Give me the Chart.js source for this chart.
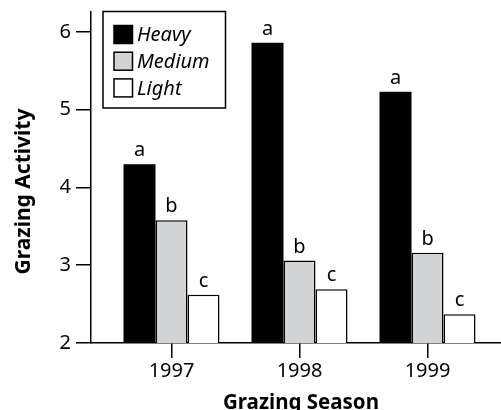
<!DOCTYPE html>
<html><head><meta charset="utf-8">
<script src="https://cdn.jsdelivr.net/npm/chart.js@4.4.1/dist/chart.umd.min.js"></script>
<style>html,body{margin:0;padding:0;background:#fff;}canvas{display:block;}</style>
</head><body>
<canvas id="c" width="501" height="410"></canvas>
<script>
const categories = ['1997', '1998', '1999'];
const heavy = [4.30, 5.86, 5.23];
const medium = [3.58, 3.06, 3.16];
const light = [2.62, 2.69, 2.37];
const heavyLetters = ['a', 'a', 'a'];
const mediumLetters = ['b', 'b', 'b'];
const lightLetters = ['c', 'c', 'c'];
const yTicks = [2, 3, 4, 5, 6];
const seriesNames = ['Heavy', 'Medium', 'Light'];
const xTitle = 'Grazing Season';
const yTitle = 'Grazing Activity';

const FONT = '"Noto Sans", "Open Sans", sans-serif';
const toPts = arr => categories.map((c, i) => ({ x: Number(c), y: arr[i] }));

const letterPlugin = {
  id: 'letters',
  afterDatasetsDraw(chart) {
    const ctx = chart.ctx;
    ctx.save();
    ctx.font = `20px ${FONT}`;
    ctx.fillStyle = '#000';
    ctx.textAlign = 'center';
    ctx.textBaseline = 'alphabetic';
    chart.data.datasets.forEach((ds, di) => {
      const meta = chart.getDatasetMeta(di);
      meta.data.forEach((bar, i) => {
        ctx.fillText(ds.letters[i], bar.x, bar.y - 8);
      });
    });
    ctx.restore();
  }
};

const legendPlugin = {
  id: 'boxLegend',
  afterDraw(chart) {
    const ctx = chart.ctx;
    ctx.save();
    ctx.lineWidth = 1.5;
    ctx.strokeStyle = '#000';
    ctx.fillStyle = '#fff';
    ctx.fillRect(103, 11.5, 122.5, 96.5);
    ctx.strokeRect(103, 11.5, 122.5, 96.5);
    ctx.font = `italic 20px ${FONT}`;
    ctx.textAlign = 'left';
    ctx.textBaseline = 'middle';
    chart.data.datasets.forEach((ds, i) => {
      const cy = 34.5 + i * 26.7;
      ctx.fillStyle = ds.backgroundColor;
      ctx.fillRect(114, cy - 9, 18.5, 18);
      ctx.lineWidth = 1.5;
      ctx.strokeStyle = '#000';
      ctx.strokeRect(114, cy - 9, 18.5, 18);
      ctx.fillStyle = '#000';
      ctx.fillText(ds.label, 137, cy + 1);
    });
    ctx.restore();
  }
};

const titlePlugin = {
  id: 'axisTitles',
  afterDraw(chart) {
    const ctx = chart.ctx;
    ctx.save();
    ctx.fillStyle = '#000';
    ctx.font = `bold 20.5px ${FONT}`;
    ctx.textAlign = 'center';
    ctx.textBaseline = 'alphabetic';
    ctx.fillText(xTitle, 301, 409);
    ctx.font = `bold 21px ${FONT}`;
    ctx.translate(29.5, 191.5);
    ctx.rotate(-Math.PI / 2);
    ctx.fillText(yTitle, 0, 0);
    ctx.restore();
  }
};

new Chart(document.getElementById('c'), {
  type: 'bar',
  data: {
    datasets: [
      { label: seriesNames[0], data: toPts(heavy), backgroundColor: '#000000', borderColor: '#000', borderWidth: 0, letters: heavyLetters },
      { label: seriesNames[1], data: toPts(medium), backgroundColor: '#d1d3d4', borderColor: '#000', borderWidth: 1.5, letters: mediumLetters },
      { label: seriesNames[2], data: toPts(light), backgroundColor: '#ffffff', borderColor: '#000', borderWidth: 1.5, letters: lightLetters }
    ]
  },
  options: {
    responsive: false,
    animation: false,
    devicePixelRatio: 1,
    layout: { padding: { top: 12, right: 0, left: 0, bottom: 0 } },
    datasets: { bar: { categoryPercentage: 0.75, barPercentage: 1.0 } },
    plugins: { legend: { display: false }, tooltip: { enabled: false }, title: { display: false } },
    scales: {
      x: {
        type: 'linear',
        min: 1996.371,
        max: 1999.574,
        offset: false,
        afterBuildTicks: s => { s.ticks = categories.map(c => ({ value: Number(c) })); },
        afterFit: s => { s.height = 67; s.paddingLeft = 0; s.paddingRight = 0; },
        grid: { offset: false, drawOnChartArea: false, drawTicks: true, tickLength: 15, color: '#000', lineWidth: 1.5 },
        border: { display: true, color: '#000', width: 1.5 },
        ticks: { color: '#000', font: { family: FONT, size: 20 }, padding: 1, maxRotation: 0, autoSkip: false,
          callback: v => String(v) }
      },
      y: {
        type: 'linear',
        min: 2,
        max: 6.257,
        afterBuildTicks: s => { s.ticks = yTicks.map(v => ({ value: v })); },
        afterFit: s => { s.width = 91; s.paddingTop = 0; s.paddingBottom = 0; },
        grid: { drawOnChartArea: false, drawTicks: true, tickLength: 15, color: '#000', lineWidth: 1.5 },
        border: { display: true, color: '#000', width: 1.5 },
        ticks: { color: '#000', font: { family: FONT, size: 20 }, padding: 5, callback: v => String(v) }
      }
    }
  },
  plugins: [letterPlugin, legendPlugin, titlePlugin]
});
</script>
</body></html>
